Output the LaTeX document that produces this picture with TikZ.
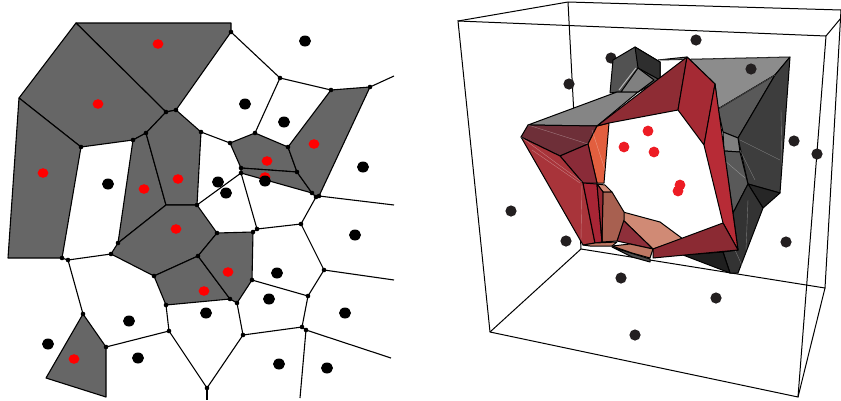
\documentclass[tikz,border=0pt]{standalone}
\definecolor{cellgray}{HTML}{666666}
\definecolor{ptred}{HTML}{FF0000}
\definecolor{ptdark}{HTML}{231F20}
\definecolor{ptredb}{HTML}{ED1C24}
\tikzset{
  cell/.style={fill=cellgray,draw=black,line width=1.1pt,line join=round},
  edge/.style={draw=black,line width=1.1pt},
  face/.style={draw=black,line width=1pt,line join=round},
  mesh/.style={draw=white,opacity=0.35,line width=0.4pt},
  frame/.style={draw=black,line width=1pt}
}
\begin{document}
\begin{tikzpicture}[x=1pt,y=-1pt]
  \useasboundingbox (0,0) rectangle (841,400);
  % voronoi vertices
  \coordinate (v01) at (76,23);
  \coordinate (v02) at (231,23);
  \coordinate (v03) at (231,32);
  \coordinate (v04) at (176,110);
  \coordinate (v05) at (166,112);
  \coordinate (v06) at (19,98);
  \coordinate (v07) at (81,147);
  \coordinate (v08) at (133,140);
  \coordinate (v09) at (146,133);
  \coordinate (v10) at (8,258);
  \coordinate (v11) at (62,258);
  \coordinate (v12) at (68,260);
  \coordinate (v13) at (111,254);
  \coordinate (v14) at (118,243);
  \coordinate (v15) at (166,205);
  \coordinate (v16) at (197,205);
  \coordinate (v17) at (201,132);
  \coordinate (v18) at (217,233);
  \coordinate (v19) at (198,256);
  \coordinate (v20) at (154,276);
  \coordinate (v21) at (166,305);
  \coordinate (v22) at (230,299);
  \coordinate (v23) at (237,303);
  \coordinate (v24) at (252,280);
  \coordinate (v25) at (253,232);
  \coordinate (v26) at (257,229);
  \coordinate (v27) at (230,143);
  \coordinate (v28) at (255,133);
  \coordinate (v29) at (288,147);
  \coordinate (v30) at (297,172);
  \coordinate (v31) at (241,168);
  \coordinate (v32) at (241,173);
  \coordinate (v33) at (312,193);
  \coordinate (v34) at (316,197);
  \coordinate (v35) at (319,196);
  \coordinate (v36) at (280,78);
  \coordinate (v37) at (331,90);
  \coordinate (v38) at (370,87);
  \coordinate (v39) at (301,224);
  \coordinate (v40) at (324,270);
  \coordinate (v41) at (308,296);
  \coordinate (v42) at (302,327);
  \coordinate (v43) at (306,330);
  \coordinate (v44) at (243,335);
  \coordinate (v45) at (207,388);
  \coordinate (v46) at (169,331);
  \coordinate (v47) at (106,347);
  \coordinate (v48) at (83,314);
  \coordinate (v49) at (46,378);
  \coordinate (v50) at (106,397);
  \coordinate (e1) at (394,76);
  \coordinate (e2) at (394,205);
  \coordinate (e3) at (394,280);
  \coordinate (e4) at (391,358);
  \coordinate (e5) at (300,398);
  \coordinate (e6) at (207,400);
  % selected cells
  \draw[cell] (v01) -- (v02) -- (v03) -- (v04) -- (v05) -- cycle;
  \draw[cell] (v01) -- (v06) -- (v07) -- (v08) -- (v09) -- (v05) -- cycle;
  \draw[cell] (v06) -- (v10) -- (v11) -- (v07) -- cycle;
  \draw[cell] (v08) -- (v09) -- (v15) -- (v14) -- cycle;
  \draw[cell] (v09) -- (v05) -- (v04) -- (v17) -- (v16) -- (v15) -- cycle;
  \draw[cell] (v14) -- (v15) -- (v16) -- (v18) -- (v19) -- (v20) -- (v13) -- cycle;
  \draw[cell] (v20) -- (v19) -- (v22) -- (v21) -- cycle;
  \draw[cell] (v19) -- (v18) -- (v25) -- (v24) -- (v23) -- (v22) -- cycle;
  \draw[cell] (v27) -- (v28) -- (v29) -- (v30) -- (v31) -- cycle;
  \draw[cell] (v31) -- (v30) -- (v33) -- (v32) -- cycle;
  \draw[cell] (v29) -- (v37) -- (v38) -- (v35) -- (v34) -- (v33) -- (v30) -- cycle;
  \draw[cell] (v48) -- (v47) -- (v50) -- (v49) -- cycle;
  % other edges
  \foreach \a/\b in {v11/v12,v12/v13,v12/v48,v47/v46,v46/v21,v46/v45,v45/v44,v45/e6,
      v44/v23,v44/v42,v42/v41,v42/v43,v43/e4,v43/e5,v41/v24,v41/v40,v40/v39,v40/e3,
      v39/v26,v39/v34,v26/v25,v26/v32,v16/v32,v17/v27,v34/v35,v35/e2,v38/e1,
      v03/v36,v36/v37,v36/v28}
    \draw[edge] (\a) -- (\b);
  \foreach \p in {v03,v04,v05,v07,v08,v09,v11,v12,v13,v14,v16,v17,v19,v20,v21,v22,v23,
      v24,v25,v26,v27,v28,v29,v30,v31,v32,v33,v34,v35,v36,v37,v38,v39,v40,v41,v42,v43,
      v44,v45,v46,v47,v48,v18}
    \fill (\p) circle (2.3pt);
  % sites
  \foreach \x/\y in {158/44,98/104,43/173,144/189,178/179,176/229,228/272,204/291,74/359,
      267/161,314/144,265/177}
    \fill[ptred] (\x,\y) ellipse [x radius=5.4pt,y radius=4.8pt];
  \foreach \x/\y in {305/41,245/104,284/122,363/167,108/184,218/182,226/193,265/181,355/235,
      277/273,269/299,206/313,129/321,345/313,48/344,138/358,279/364,327/368}
    \fill (\x,\y) ellipse [x radius=6pt,y radius=5.5pt];
  % box, back edges
  \draw[frame] (458,21) -- (568,2) -- (841,10);
  \draw[frame] (568,2) -- (581,249) -- (825,288) -- (841,10);
  \draw[frame] (581,249) -- (490,332);
  \draw[frame] (825,288) -- (798,397);
  \fill[ptdark] (611,58) circle (5.6pt);
  % grey part of the solid
  \draw[face,fill=black!68] (613,60) -- (635,47) -- (660,62) -- (660,80) -- (638,92) -- (617,92) -- (610,93) -- cycle;
  \draw[face,fill=black!82] (635,47) -- (660,62) -- (660,80) -- (638,68) -- cycle;
  \draw[face,fill=black!50] (638,68) -- (654,80) -- (638,92) -- (621,92) -- cycle;
  \draw[draw=white,opacity=0.6,line width=1pt] (619,90) -- (636,68);
  \draw[face,fill=black!45] (658,60) -- (790,57) -- (775,75) -- (718,109) -- (715,84) -- (687,57) -- cycle;
  \draw[face,fill=black!65] (718,109) -- (775,75) -- (738,138) -- (723,132) -- cycle;
  \draw[face,fill=black!76] (775,75) -- (790,57) -- (780,193) -- (748,184) -- (738,138) -- cycle;
  \draw[face,fill=black!50] (723,132) -- (738,138) -- (740,152) -- (724,151) -- cycle;
  \draw[face,fill=black!65] (724,151) -- (740,152) -- (748,184) -- (733,213) -- cycle;
  \draw[face,fill=black!85] (748,184) -- (780,193) -- (763,208) -- cycle;
  \draw[face,fill=black!80] (748,184) -- (763,208) -- (738,273) -- (730,273) -- (723,252) -- (738,250) -- (733,213) -- cycle;
  \draw[face,fill=black!88] (683,255) -- (723,252) -- (730,273) -- cycle;
  \draw[mesh] (658,60) -- (790,57) (775,75) -- (718,109) (781,110) -- (782,167) (740,140) -- (780,160)
    (755,180) -- (740,150) (748,200) -- (746,250) (735,250) -- (745,272) (724,160) -- (745,178);
  % red part of the solid
  \draw[face,fill=black!48] (528,125) -- (617,92) -- (638,92) -- (597,126) -- cycle;
  \draw[face,fill={rgb,255:red,110;green,47;blue,56}] (528,125) -- (597,126) -- (588,144) -- (560,156) -- (521,137) -- cycle;
  \draw[face,fill={rgb,255:red,226;green,95;blue,63}] (597,126) -- (609,123) -- (604,183) -- (597,183) -- (588,144) -- cycle;
  \draw[face,fill={rgb,255:red,138;green,43;blue,56}] (560,156) -- (588,144) -- (597,183) -- (583,183) -- cycle;
  \draw[face,fill={rgb,255:red,168;green,52;blue,58}] (521,137) -- (560,156) -- (583,183) -- (595,243) -- (583,245) -- cycle;
  \draw[mesh] (528,125) -- (588,144) (521,137) -- (582,182) (532,150) -- (580,183) (582,183) -- (581,240) (592,130) -- (605,170);
  \draw[face,fill={rgb,255:red,142;green,44;blue,52}] (597,126) -- (687,57) -- (678,110) -- (609,123) -- cycle;
  \draw[face,fill={rgb,255:red,165;green,42;blue,52}] (687,57) -- (715,84) -- (704,145) -- (678,110) -- cycle;
  \draw[face,fill={rgb,255:red,183;green,43;blue,54}] (715,84) -- (738,250) -- (723,223) -- (704,145) -- cycle;
  \draw[face,fill={rgb,255:red,208;green,138;blue,117}] (623,212) -- (660,222) -- (683,239) -- (653,249) -- (623,220) -- cycle;
  \draw[face,fill={rgb,255:red,142;green,47;blue,58}] (623,220) -- (653,249) -- (617,241) -- cycle;
  \draw[face,fill={rgb,255:red,208;green,138;blue,117}] (597,184) -- (605,185) -- (612,192) -- (603,192) -- cycle;
  \draw[face,fill={rgb,255:red,168;green,96;blue,80}] (603,192) -- (612,192) -- (624,212) -- (624,220) -- (617,241) -- (602,242) -- cycle;
  \draw[face,fill={rgb,255:red,168;green,37;blue,53}] (583,183) -- (597,184) -- (602,242) -- (595,243) -- cycle;
  \draw[face,fill={rgb,255:red,150;green,40;blue,50}] (597,184) -- (603,192) -- (602,242) -- cycle;
  \draw[face,fill=black!70] (612,247) -- (650,259) -- (650,262) -- (632,257) -- cycle;
  \draw[face,fill={rgb,255:red,190;green,120;blue,100}] (583,245) -- (595,243) -- (617,242) -- (612,246) -- (590,246) -- cycle;
  \draw[face,fill={rgb,255:red,190;green,120;blue,100}] (612,246) -- (630,244) -- (653,249) -- (650,258) -- (632,253) -- cycle;
  \draw[face,fill={rgb,255:red,139;green,42;blue,51}] (723,223) -- (738,250) -- (653,258) -- (653,249) -- cycle;
  % box, front edges and the remaining sites
  \draw[frame] (458,21) -- (826,36) -- (798,397) -- (490,332) -- cycle;
  \draw[frame] (826,36) -- (841,18);
  \foreach \x/\y in {696/40,569/84,751/69,794/141,817/154,511/211,566/241,786/242,621/278,716/298,635/335}
    \fill[ptdark] (\x,\y) circle (5.6pt);
  \foreach \x/\y in {648/131,624/147,654/152,680/185,678/191}
    \fill[ptredb] (\x,\y) circle (5.4pt);
\end{tikzpicture}
\end{document}
